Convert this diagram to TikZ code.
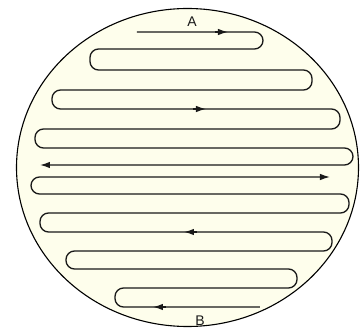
\documentclass[tikz,border=0pt]{standalone}
\usepackage{fontspec}
\setmainfont{Liberation Sans}
\usetikzlibrary{arrows.meta}
\definecolor{cream}{RGB}{254,254,236}
\definecolor{ink}{RGB}{25,25,25}
\begin{document}
\begin{tikzpicture}[x=1pt,y=-1pt,
  coil/.style={draw=ink,line width=1.3pt,rounded corners=8.5pt},
  tipline/.style={draw=ink,line width=1.3pt,-{Latex[length=10pt,width=6.5pt]}},
  lbl/.style={font=\fontsize{14}{14}\selectfont,text=ink,inner sep=0pt}]
\useasboundingbox (0,0) rectangle (360,329);
\draw[fill=cream,draw=black,line width=1.1pt] (187.5,167.5) ellipse [x radius=171pt, y radius=159pt];
% flow from A
\coordinate (a0) at (137,32);
\coordinate (a1) at (40,165);
\draw[coil,-{Latex[length=10pt,width=6.5pt]}] (a0) -- (263,32) -- (263,49) -- (90,49) -- (90,70)
  -- (312,70) -- (312,90) -- (52,90) -- (52,109) -- (340,109) -- (340,129)
  -- (35,129) -- (35,148) -- (353,148) -- (353,165) -- (a1);
% flow from B
\coordinate (b0) at (260,307);
\coordinate (b1) at (330,177);
\draw[coil,-{Latex[length=10pt,width=6.5pt]}] (b0) -- (115,307) -- (115,288) -- (297,288) -- (297,269)
  -- (66,269) -- (66,251) -- (332,251) -- (332,232) -- (40,232) -- (40,213)
  -- (349,213) -- (349,194) -- (31,194) -- (31,177) -- (b1);
% mid arrows
\draw[tipline] (215,32) -- (228,32);
\draw[tipline] (193,109) -- (206,109);
\draw[tipline] (197,232) -- (184,232);
\draw[tipline] (166,307) -- (153,307);
\node[lbl] (A) at (192,22) {A};
\node[lbl] (B) at (200,321) {B};
\end{tikzpicture}
\end{document}
